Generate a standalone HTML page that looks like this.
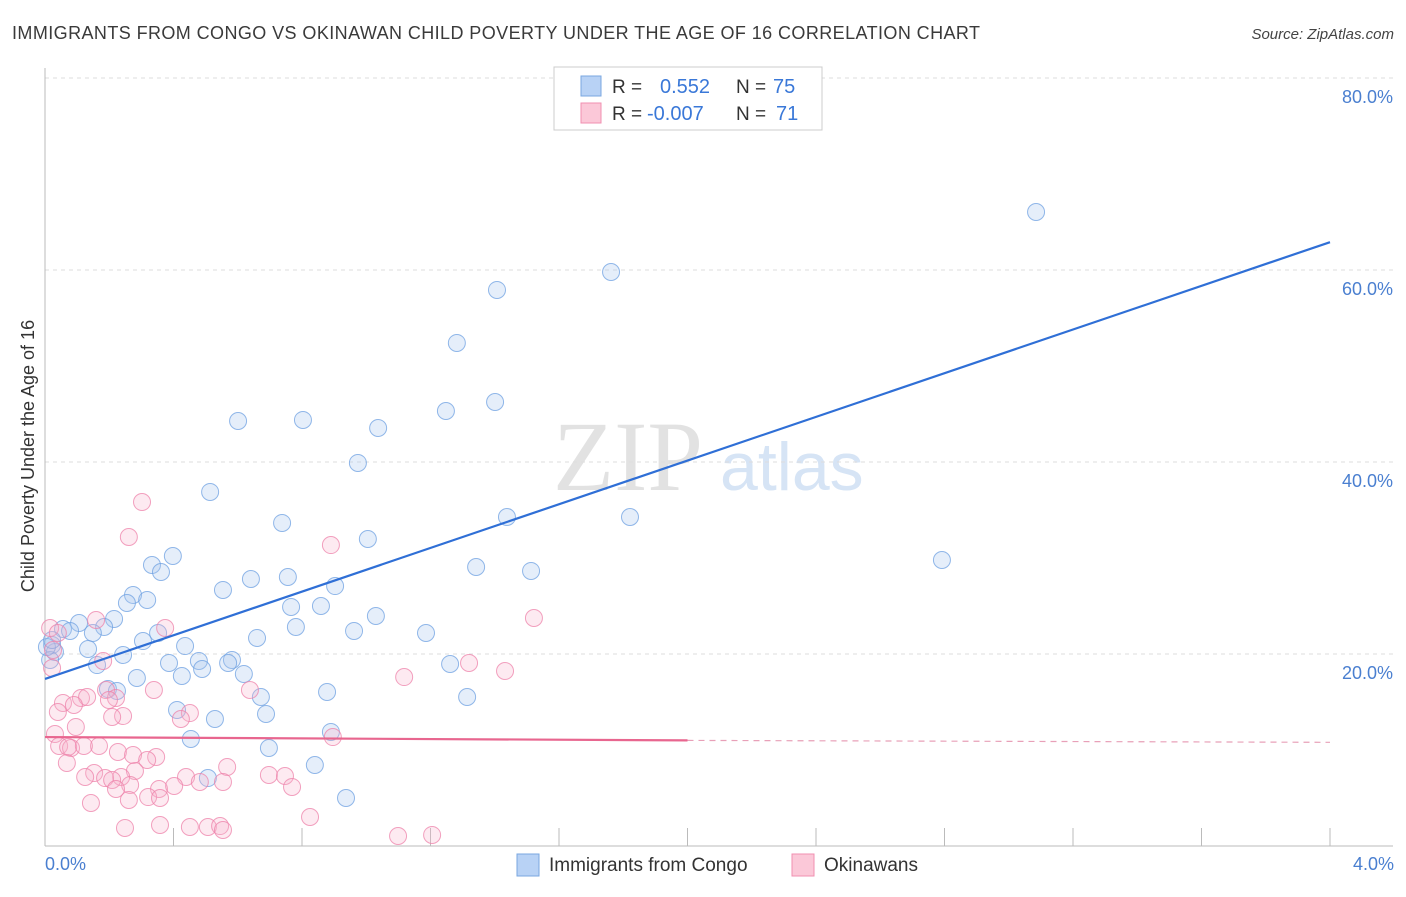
<!DOCTYPE html>
<html><head><meta charset="utf-8"><style>
body{margin:0;background:#fff;font-family:"Liberation Sans",sans-serif}
</style></head><body>
<svg width="1406" height="892" xmlns="http://www.w3.org/2000/svg" font-family="Liberation Sans, sans-serif">
<text x="12" y="39" font-size="18" fill="#3a3a3a" textLength="968" lengthAdjust="spacing">IMMIGRANTS FROM CONGO VS OKINAWAN CHILD POVERTY UNDER THE AGE OF 16 CORRELATION CHART</text>
<text x="1394" y="39" font-size="15" fill="#444" text-anchor="end" font-style="italic">Source: ZipAtlas.com</text>
<text x="553" y="490" font-size="100" fill="#e2e2e2" font-family="Liberation Serif, serif">ZIP</text>
<text x="720" y="490" font-size="68" fill="#d6e4f5">atlas</text>
<g id="grid"></g>
<line x1="45" y1="68" x2="45" y2="846" stroke="#bbb"/>
<line x1="45" y1="846" x2="1393" y2="846" stroke="#bbb"/>
<g id="ticks"></g>
<text transform="translate(34,456) rotate(-90)" font-size="18" fill="#333" text-anchor="middle">Child Poverty Under the Age of 16</text>
<text x="45" y="870" font-size="18" fill="#4a7fd0">0.0%</text>
<text x="1394" y="870" font-size="18" fill="#4a7fd0" text-anchor="end">4.0%</text>
<g id="pts"></g>
<g id="lines"></g>
<g>
<rect x="554" y="67" width="268" height="63" fill="#fff" stroke="#ccc"/>
<rect x="581" y="76" width="20" height="20" fill="#b8d2f5" stroke="#7aa7e0"/>
<rect x="581" y="103" width="20" height="20" fill="#fbc8d8" stroke="#f08fb0"/>
<text x="612" y="93" font-size="19" fill="#333">R =</text><text x="660" y="93" font-size="20" fill="#3a78d8">0.552</text>
<text x="736" y="93" font-size="19" fill="#333">N =</text><text x="773" y="93" font-size="20" fill="#3a78d8">75</text>
<text x="612" y="120" font-size="19" fill="#333">R =</text><text x="647" y="120" font-size="20" fill="#3a78d8">-0.007</text>
<text x="736" y="120" font-size="19" fill="#333">N =</text><text x="776" y="120" font-size="20" fill="#3a78d8">71</text>
</g>
<g>
<rect x="517" y="854" width="22" height="22" fill="#b8d2f5" stroke="#7aa7e0"/>
<text x="549" y="871" font-size="19" fill="#333">Immigrants from Congo</text>
<rect x="792" y="854" width="22" height="22" fill="#fbc8d8" stroke="#f08fb0"/>
<text x="824" y="871" font-size="19" fill="#333">Okinawans</text>
</g>
</svg>
<script>
const yTicks=[20,40,60,80];
const yTickLabels=["20.0%","40.0%","60.0%","80.0%"];
const xTicks=[0,0.4,0.8,1.2,1.6,2.0,2.4,2.8,3.2,3.6,4.0];
const bluePx=[[1036,212],[611,272],[497,290],[457,343],[238,421],[303,420],[378,428],[446,411],[495,402],[358,463],[210,492],[282,523],[507,517],[630,517],[368,539],[173,556],[152,565],[161,572],[942,560],[476,567],[531,571],[223,590],[251,579],[288,577],[335,586],[133,595],[127,603],[147,600],[291,607],[321,606],[376,616],[114,619],[79,623],[104,627],[63,629],[70,631],[93,633],[158,633],[296,627],[354,631],[426,633],[257,638],[143,641],[185,646],[88,649],[52,645],[55,652],[123,655],[50,660],[169,663],[199,661],[232,660],[228,663],[202,669],[97,665],[182,676],[244,674],[450,664],[137,678],[108,689],[117,691],[261,697],[327,692],[467,697],[177,710],[266,714],[215,719],[331,732],[191,739],[269,748],[315,765],[208,778],[346,798],[47,647],[52,640]];
const pinkPx=[[142,502],[129,537],[331,545],[534,618],[96,620],[165,628],[50,628],[58,633],[103,661],[52,668],[469,663],[505,671],[404,677],[154,690],[250,690],[106,690],[81,698],[87,697],[116,698],[109,700],[63,703],[74,705],[58,712],[190,713],[123,716],[112,717],[181,719],[76,727],[55,734],[333,737],[59,746],[71,748],[68,747],[99,746],[84,746],[118,752],[133,755],[156,757],[147,760],[67,763],[135,771],[227,767],[94,773],[85,777],[186,777],[121,777],[105,778],[269,775],[285,776],[112,780],[200,782],[223,782],[130,785],[292,787],[159,789],[174,786],[116,789],[148,797],[129,800],[160,798],[91,803],[310,817],[125,828],[160,825],[190,827],[208,827],[220,826],[223,830],[398,836],[432,835],[53,650]];
const blueX=bluePx.map(p=>+((p[0]-45)/321.25).toFixed(3));
const blueY=bluePx.map(p=>+((846-p[1])/9.6).toFixed(2));
const pinkX=pinkPx.map(p=>+((p[0]-45)/321.25).toFixed(3));
const pinkY=pinkPx.map(p=>+((846-p[1])/9.6).toFixed(2));
const blueTrend=[17.4,62.9];
const pinkTrend=[11.35,11.0,10.8];
const sx=v=>45+v*321.25, sy=v=>846-v*9.6;
const NS="http://www.w3.org/2000/svg";
function mk(t,a,p){const e=document.createElementNS(NS,t);for(const k in a)e.setAttribute(k,a[k]);document.getElementById(p).appendChild(e);return e;}
yTicks.forEach((v,i)=>{
 const l=mk('line',{x1:45,x2:1393,y1:sy(v),y2:sy(v),stroke:'#ddd','stroke-dasharray':'4,4'},'grid');
 
 
 const t=mk('text',{x:1393,y:sy(v)+25,'font-size':18,fill:'#4a7fd0','text-anchor':'end'},'grid');
 t.textContent=yTickLabels[i];
 
 
});
xTicks.forEach(v=>{
 const l=mk('line',{x1:sx(v),x2:sx(v),y1:828,y2:846,stroke:'#bbb'},'ticks');
 
 
});
blueX.forEach((x,i)=>{
 const c=mk('circle',{cx:sx(x),cy:sy(blueY[i]),r:8.5,fill:'rgba(170,200,240,0.3)',stroke:'rgba(110,160,225,0.75)','stroke-width':1},'pts');
 
 
});
pinkX.forEach((x,i)=>{
 const c=mk('circle',{cx:sx(x),cy:sy(pinkY[i]),r:8.5,fill:'rgba(248,180,205,0.28)',stroke:'rgba(238,130,170,0.75)','stroke-width':1},'pts');
 
 
});
const bl=mk('line',{x1:sx(0),y1:sy(blueTrend[0]),x2:sx(4),y2:sy(blueTrend[1]),stroke:'#2f6fd6','stroke-width':2.2},'lines');


const pl=mk('line',{x1:sx(0),y1:sy(pinkTrend[0]),x2:sx(2),y2:sy(pinkTrend[1]),stroke:'#e8668f','stroke-width':2.2},'lines');


const pd=mk('line',{x1:sx(2),y1:sy(pinkTrend[1]),x2:sx(4),y2:sy(pinkTrend[2]),stroke:'#e8a0b8','stroke-width':1.2,'stroke-dasharray':'6,5'},'lines');


</script>
</body></html>
